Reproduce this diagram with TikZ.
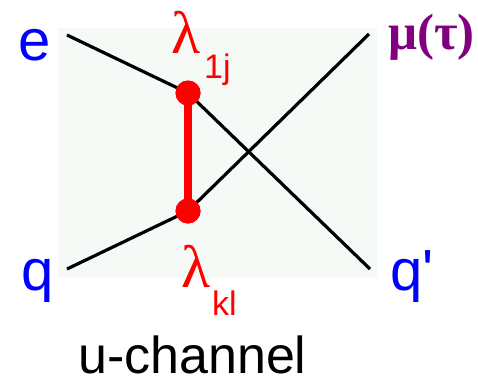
\documentclass[tikz,border=0pt]{standalone}
\usepackage{fontspec}
\setmainfont{Liberation Sans}
\newfontfamily\serifgr{Liberation Serif}
\definecolor{bgfill}{RGB}{246,250,246}
\definecolor{labblue}{RGB}{0,0,255}
\definecolor{labred}{RGB}{255,0,0}
\definecolor{labpurple}{RGB}{128,0,128}
\begin{document}
\begin{tikzpicture}[x=1pt,y=-1pt,
  fermion/.style={draw=black,line width=3.2pt},
  vtx/.style={circle,fill=labred,inner sep=0pt,minimum size=25pt},
  coupling/.style={draw=labred,line width=8pt},
  bluelab/.style={text=labblue,inner sep=0pt,font=\fontsize{58}{60}\selectfont},
  lamlab/.style={text=labred,inner sep=0pt,font=\serifgr\fontsize{60}{62}\selectfont},
  sublab/.style={text=labred,inner sep=0pt,font=\fontsize{34}{36}\selectfont},
]
\useasboundingbox (0,0) rectangle (478,378);
\fill[bgfill] (58,28) rectangle (377,277);
\coordinate (ein) at (67,35);
\coordinate (qin) at (67,269);
\coordinate (muout) at (369,34);
\coordinate (qout) at (370,269);
\node[vtx] (v1) at (188,93) {};
\node[vtx] (v2) at (188,211) {};
\draw[fermion] (ein) -- (v1.center) -- (qout);
\draw[fermion] (qin) -- (v2.center) -- (muout);
\draw[coupling] (v1.center) -- (v2.center);
\node[vtx] at (v1.center) {};
\node[vtx] at (v2.center) {};
\node[bluelab,anchor=base] (le) at (35,60) {e};
\node[bluelab,anchor=base] (lq) at (38,290) {q};
\node[bluelab,anchor=base west] (lqp) at (390,290) {q\textquotesingle};
\node[lamlab,anchor=base west] (l1) at (171,53) {λ};
\node[sublab,anchor=base west] (s1) at (204,78) {1j};
\node[lamlab,anchor=base west] (l2) at (181,287) {λ};
\node[sublab,anchor=base west] (s2) at (212,315) {kl};
\node[text=labpurple,inner sep=0pt,anchor=base west,font=\serifgr\bfseries\fontsize{51}{53}\selectfont] (lmu) at (388,49) {μ(τ)};
\node[inner sep=0pt,anchor=base west,font=\fontsize{52}{54}\selectfont] (lch) at (78,373) {u-channel};
\end{tikzpicture}
\end{document}
